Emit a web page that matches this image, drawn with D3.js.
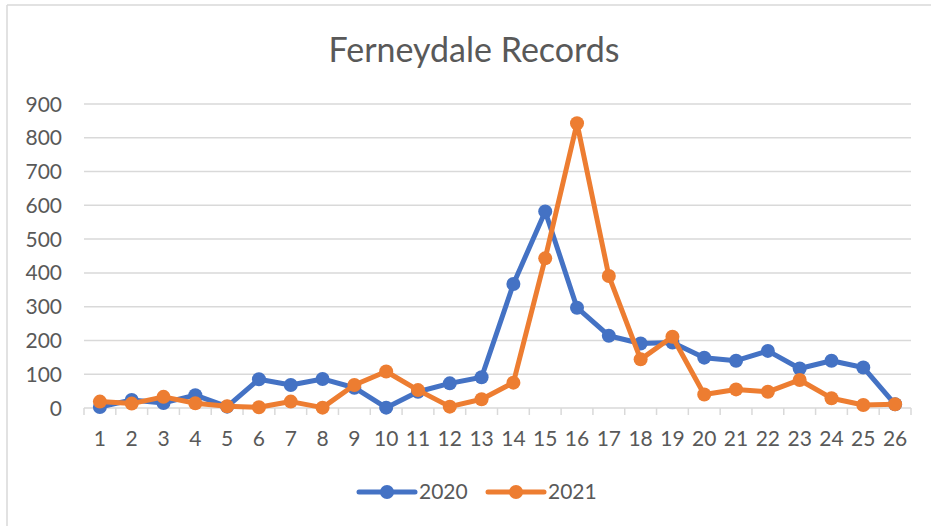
<!doctype html>
<html>
<head>
<meta charset="utf-8"/>
<title>Ferneydale Records</title>
<script src="https://d3js.org/d3.v7.min.js"></script>
<style>
  body { margin: 0; background: #fff; }
  text { font-family: Lato, "Open Sans", sans-serif; fill: #595959; }
</style>
</head>
<body>
<div id="chart"></div>
<script>
// data
var categories = d3.range(1, 27);
var values2020 = [3, 24, 15, 38, 4, 85, 68, 86, 60, 1, 48, 73, 91, 367, 582, 297, 214, 191, 194, 149, 140, 169, 117, 140, 120, 11];
var values2021 = [19, 13, 33, 14, 5, 2, 19, 1, 68, 108, 53, 4, 26, 75, 443, 843, 391, 144, 211, 40, 55, 48, 83, 29, 9, 11];
var yTicks = [0, 100, 200, 300, 400, 500, 600, 700, 800, 900];
var seriesNames = ["2020", "2021"];
var colours = ["#4472C4", "#ED7D31"];

var W = 931, H = 526;
var svg = d3.select("#chart").append("svg")
  .attr("width", W).attr("height", H);

// chart border (only top and left visible)
svg.append("line").attr("x1", 7).attr("y1", 5).attr("x2", W).attr("y2", 5)
  .attr("stroke", "#d9d9d9").attr("stroke-width", 1.5);
svg.append("line").attr("x1", 7).attr("y1", 5).attr("x2", 7).attr("y2", H)
  .attr("stroke", "#d9d9d9").attr("stroke-width", 1.5);

var plotL = 84, plotR = 911, plotT = 104, plotB = 408;

var x = d3.scaleBand().domain(categories).range([plotL, plotR]);
var y = d3.scaleLinear().domain([0, 900]).range([plotB, plotT]);

svg.append("text")
  .attr("x", 474).attr("y", 62)
  .attr("text-anchor", "middle")
  .style("font-size", "34px")
  .text("Ferneydale Records");

// gridlines
svg.append("g").selectAll("line").data(yTicks).join("line")
  .attr("x1", plotL).attr("x2", plotR)
  .attr("y1", function(d) { return y(d); }).attr("y2", function(d) { return y(d); })
  .attr("stroke", "#d9d9d9").attr("stroke-width", 1.5);

// y labels
svg.append("g").selectAll("text").data(yTicks).join("text")
  .attr("x", 62).attr("y", function(d) { return y(d); })
  .attr("dy", "0.36em")
  .attr("text-anchor", "end")
  .style("font-size", "21px")
  .text(function(d) { return d; });

// x axis ticks at category boundaries
var bounds = categories.map(function(c) { return x(c); }).concat([plotR]);
svg.append("g").selectAll("line").data(bounds).join("line")
  .attr("x1", function(d) { return d; }).attr("x2", function(d) { return d; })
  .attr("y1", plotB).attr("y2", plotB + 7)
  .attr("stroke", "#d9d9d9").attr("stroke-width", 1.5);

svg.append("g").selectAll("text").data(categories).join("text")
  .attr("x", function(d) { return x(d) + x.bandwidth() / 2; })
  .attr("y", 446)
  .attr("text-anchor", "middle")
  .style("font-size", "21px")
  .text(function(d) { return d; });

// series
var series = [values2020, values2021];
var line = d3.line()
  .x(function(d, i) { return x(categories[i]) + x.bandwidth() / 2; })
  .y(function(d) { return y(d); });

series.forEach(function(vals, s) {
  var g = svg.append("g");
  g.append("path").datum(vals)
    .attr("d", line)
    .attr("fill", "none")
    .attr("stroke", colours[s])
    .attr("stroke-width", 5)
    .attr("stroke-linejoin", "round");
  g.selectAll("circle").data(vals).join("circle")
    .attr("cx", function(d, i) { return x(categories[i]) + x.bandwidth() / 2; })
    .attr("cy", function(d) { return y(d); })
    .attr("r", 7)
    .attr("fill", colours[s]);
});

// legend
var legendX = [359, 488];
seriesNames.forEach(function(name, s) {
  var lx = legendX[s];
  svg.append("line")
    .attr("x1", lx).attr("x2", lx + 56).attr("y1", 492).attr("y2", 492)
    .attr("stroke", colours[s]).attr("stroke-width", 5).attr("stroke-linecap", "round");
  svg.append("circle").attr("cx", lx + 28).attr("cy", 492).attr("r", 7)
    .attr("fill", colours[s]);
  svg.append("text")
    .attr("x", lx + 60).attr("y", 499)
    .style("font-size", "21px")
    .text(name);
});
</script>
</body>
</html>
